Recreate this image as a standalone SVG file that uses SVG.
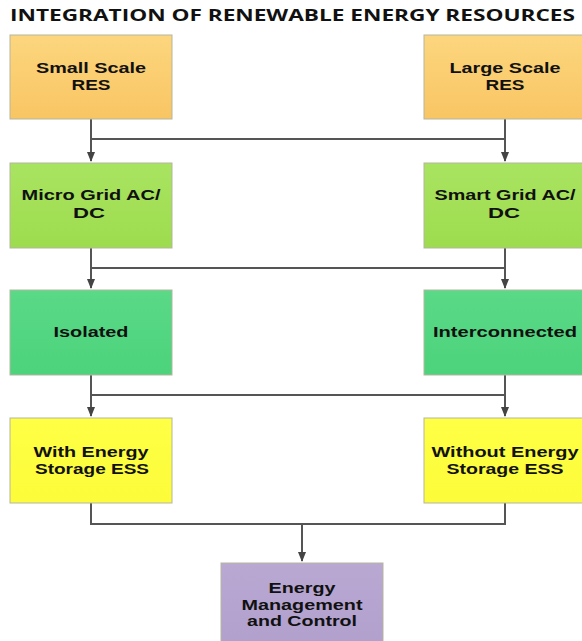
<svg xmlns="http://www.w3.org/2000/svg" width="582" height="641" viewBox="0 0 582 641">
<defs>
<linearGradient id="gO" x1="0" y1="0" x2="0" y2="1"><stop offset="0" stop-color="#fcd67e"/><stop offset="1" stop-color="#f9c563"/></linearGradient>
<linearGradient id="gG" x1="0" y1="0" x2="0" y2="1"><stop offset="0" stop-color="#a9e461"/><stop offset="1" stop-color="#9ddc4e"/></linearGradient>
<linearGradient id="gD" x1="0" y1="0" x2="0" y2="1"><stop offset="0" stop-color="#5ad987"/><stop offset="1" stop-color="#4cd37b"/></linearGradient>
<linearGradient id="gY" x1="0" y1="0" x2="0" y2="1"><stop offset="0" stop-color="#ffff45"/><stop offset="1" stop-color="#fcfc3a"/></linearGradient>
<linearGradient id="gP" x1="0" y1="0" x2="0" y2="1"><stop offset="0" stop-color="#b8a8d2"/><stop offset="1" stop-color="#b1a0cc"/></linearGradient>
<marker id="arr" markerWidth="10" markerHeight="8" refX="9" refY="4" orient="auto" markerUnits="userSpaceOnUse"><path d="M0,0 L10,4 L0,8 Z" fill="#444"/></marker>
</defs>
<style>
.box{stroke:#b5b5a0;stroke-width:1}
.t{font-family:"Liberation Sans",Arial,sans-serif;font-weight:bold;font-size:14.5px;fill:#111;text-anchor:middle}
.c{fill:none;stroke:#555;stroke-width:2}
.title{font-family:"Open Sans","Liberation Sans",sans-serif;font-weight:bold;font-size:16px;fill:#111}
</style>
<rect width="582" height="641" fill="#fff"/>
<text class="title" x="10" y="21" textLength="565" lengthAdjust="spacingAndGlyphs">INTEGRATION OF RENEWABLE ENERGY RESOURCES</text>
<g id="connectors">
<path class="c" d="M91,119 V161" marker-end="url(#arr)"/>
<path class="c" d="M505,119 V161" marker-end="url(#arr)"/>
<path class="c" d="M91,139 H505"/>
<path class="c" d="M91,248 V288" marker-end="url(#arr)"/>
<path class="c" d="M505,248 V288" marker-end="url(#arr)"/>
<path class="c" d="M91,268 H505"/>
<path class="c" d="M91,375 V416" marker-end="url(#arr)"/>
<path class="c" d="M505,375 V416" marker-end="url(#arr)"/>
<path class="c" d="M91,395 H505"/>
<path class="c" d="M91,503 V524 H505 V503"/>
<path class="c" d="M302,524 V561" marker-end="url(#arr)"/>
</g>
<g id="n1"><rect class="box" x="10" y="35" width="162" height="84" fill="url(#gO)"/><text class="t" x="91" y="73" textLength="110" lengthAdjust="spacingAndGlyphs">Small Scale</text><text class="t" x="91" y="90" textLength="39" lengthAdjust="spacingAndGlyphs">RES</text></g>
<g id="n2"><rect class="box" x="424" y="35" width="162" height="84" fill="url(#gO)"/><text class="t" x="505" y="73" textLength="111" lengthAdjust="spacingAndGlyphs">Large Scale</text><text class="t" x="505" y="90" textLength="39" lengthAdjust="spacingAndGlyphs">RES</text></g>
<g id="n3"><rect class="box" x="10" y="163" width="162" height="85" fill="url(#gG)"/><text class="t" x="91" y="200" textLength="139" lengthAdjust="spacingAndGlyphs">Micro Grid AC/</text><text class="t" x="89" y="218" textLength="32" lengthAdjust="spacingAndGlyphs">DC</text></g>
<g id="n4"><rect class="box" x="424" y="163" width="162" height="85" fill="url(#gG)"/><text class="t" x="505" y="200" textLength="141" lengthAdjust="spacingAndGlyphs">Smart Grid AC/</text><text class="t" x="504" y="218" textLength="32" lengthAdjust="spacingAndGlyphs">DC</text></g>
<g id="n5"><rect class="box" x="10" y="290" width="162" height="85" fill="url(#gD)"/><text class="t" x="91" y="337" textLength="75" lengthAdjust="spacingAndGlyphs">Isolated</text></g>
<g id="n6"><rect class="box" x="424" y="290" width="162" height="85" fill="url(#gD)"/><text class="t" x="505" y="337" textLength="144" lengthAdjust="spacingAndGlyphs">Interconnected</text></g>
<g id="n7"><rect class="box" x="10" y="418" width="162" height="85" fill="url(#gY)"/><text class="t" x="91" y="457" textLength="115" lengthAdjust="spacingAndGlyphs">With Energy</text><text class="t" x="92" y="474" textLength="114" lengthAdjust="spacingAndGlyphs">Storage ESS</text></g>
<g id="n8"><rect class="box" x="424" y="418" width="162" height="85" fill="url(#gY)"/><text class="t" x="505" y="457" textLength="147" lengthAdjust="spacingAndGlyphs">Without Energy</text><text class="t" x="505" y="474" textLength="117" lengthAdjust="spacingAndGlyphs">Storage ESS</text></g>
<g id="n9"><rect class="box" x="221" y="563" width="162" height="85" fill="url(#gP)"/><text class="t" x="302" y="593" textLength="67" lengthAdjust="spacingAndGlyphs">Energy</text><text class="t" x="302" y="610" textLength="121" lengthAdjust="spacingAndGlyphs">Management</text><text class="t" x="302" y="626" textLength="110" lengthAdjust="spacingAndGlyphs">and Control</text></g>
</svg>
